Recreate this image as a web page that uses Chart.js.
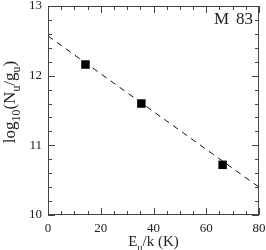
<!DOCTYPE html>
<html>
<head>
<meta charset="utf-8">
<script src="https://cdn.jsdelivr.net/npm/chart.js@4.4.1/dist/chart.umd.min.js"></script>
<style>
  html, body { margin: 0; padding: 0; background: #fff; }
  canvas { display: block; }
</style>
</head>
<body>
<canvas id="myChart" width="266" height="250"></canvas>
<script>
// measured points (E_u/k, log10(N_u/g_u))
var energies = [14.2, 35.4, 66.2];
var logCols = [12.16, 11.60, 10.72];
// fitted line end points
var fitX = [0, 80];
var fitY = [12.57, 10.40];
var xTicks = [0, 20, 40, 60, 80];
var yTicks = [10, 11, 12, 13];
var label = "M 83";

var serif = "'Liberation Serif', 'DejaVu Serif', serif";
var axisColor = "#444";

// draws a string made of [text, isSub] pieces starting at x
function drawPieces(ctx, pieces, x, y, size) {
	var sub = size * 0.7;
	for (var i = 0; i < pieces.length; i++) {
		var p = pieces[i];
		ctx.font = (p[1] ? sub : size) + "px " + serif;
		ctx.fillText(p[0], x, p[1] ? y + size * 0.3 : y);
		x += ctx.measureText(p[0]).width;
	}
}
function piecesWidth(ctx, pieces, size) {
	var w = 0;
	for (var i = 0; i < pieces.length; i++) {
		ctx.font = (pieces[i][1] ? size * 0.7 : size) + "px " + serif;
		w += ctx.measureText(pieces[i][0]).width;
	}
	return w;
}

// box, inward ticks on all sides, axis titles and panel label
var framePlugin = {
	id: "frame",
	afterDraw: function(chart) {
		var ctx = chart.ctx;
		var a = chart.chartArea;
		var xs = chart.scales.x, ys = chart.scales.y;
		ctx.save();
		ctx.strokeStyle = axisColor;
		ctx.lineWidth = 1;
		ctx.strokeRect(a.left + 0.5, a.top + 0.5, a.right - a.left - 1, a.bottom - a.top - 1);
		ctx.beginPath();
		for (var v = 0; v <= 80; v += 5) {
			var px = Math.round(xs.getPixelForValue(v)) + 0.5;
			var len = (v % 20 === 0) ? 7 : 4;
			ctx.moveTo(px, a.bottom); ctx.lineTo(px, a.bottom - len);
			ctx.moveTo(px, a.top); ctx.lineTo(px, a.top + len);
		}
		for (var k = 0; k <= 15; k++) {
			var yv = 10 + k * 0.2;
			var py = Math.round(ys.getPixelForValue(yv)) + 0.5;
			var l2 = (k % 5 === 0) ? 7 : 4;
			ctx.moveTo(a.left, py); ctx.lineTo(a.left + l2, py);
			ctx.moveTo(a.right, py); ctx.lineTo(a.right - l2, py);
		}
		ctx.stroke();

		ctx.fillStyle = "#222";
		ctx.textBaseline = "alphabetic";
		ctx.textAlign = "left";
		// x title
		var xt = [["E", false], ["u", true], ["/k (K)", false]];
		var w = piecesWidth(ctx, xt, 15);
		drawPieces(ctx, xt, (a.left + a.right) / 2 - w / 2, 246, 15);
		// y title
		var yt = [["log", false], ["10", true], ["(N", false], ["u", true], ["/g", false], ["u", true], [")", false]];
		ctx.translate(15, 102);
		ctx.rotate(-Math.PI / 2);
		var wy = piecesWidth(ctx, yt, 17);
		drawPieces(ctx, yt, -wy / 2, 0, 17);
		ctx.setTransform(1, 0, 0, 1, 0, 0);
		// panel label, words spaced a little wider
		var parts = label.split(" ");
		ctx.font = "17px " + serif;
		ctx.textAlign = "right";
		ctx.fillText(parts[1], a.right - 6, a.top + 18);
		var w83 = ctx.measureText(parts[1]).width;
		ctx.fillText(parts[0], a.right - 6 - w83 - 7, a.top + 18);
		ctx.restore();
	}
};

var pts = [];
for (var i = 0; i < energies.length; i++) pts.push({ x: energies[i], y: logCols[i] });
var fit = [];
for (var j = 0; j < fitX.length; j++) fit.push({ x: fitX[j], y: fitY[j] });

var chartContext = document.getElementById("myChart").getContext("2d");
var chart = new Chart(chartContext, {
	type: "scatter",
	data: {
		datasets: [{
			type: "line",
			data: fit,
			borderColor: "#111",
			borderWidth: 1,
			borderDash: [6, 5],
			pointRadius: 0,
			fill: false
		}, {
			data: pts,
			pointStyle: "rect",
			pointRadius: 6,
			backgroundColor: "#000",
			borderColor: "#000",
			borderWidth: 0
		}]
	},
	options: {
		responsive: false,
		animation: false,
		devicePixelRatio: 1,
		layout: { padding: { left: 0, right: 7, top: 5, bottom: 0 } },
		plugins: { legend: { display: false }, tooltip: { enabled: false } },
		scales: {
			x: {
				type: "linear", min: 0, max: 80,
				afterFit: function(s) { s.height = 35; s.paddingLeft = 0; s.paddingRight = 0; },
				afterBuildTicks: function(s) { s.ticks = xTicks.map(function(v) { return { value: v }; }); },
				grid: { display: false, drawTicks: false },
				border: { display: false },
				ticks: { padding: 6, color: "#222", font: { family: serif, size: 13 } }
			},
			y: {
				type: "linear", min: 10, max: 13,
				afterFit: function(s) { s.width = 48; s.paddingTop = 0; s.paddingBottom = 0; },
				afterBuildTicks: function(s) { s.ticks = yTicks.map(function(v) { return { value: v }; }); },
				grid: { display: false, drawTicks: false },
				border: { display: false },
				ticks: { padding: 6, color: "#222", font: { family: serif, size: 13 } }
			}
		}
	},
	plugins: [framePlugin]
});
</script>
</body>
</html>
